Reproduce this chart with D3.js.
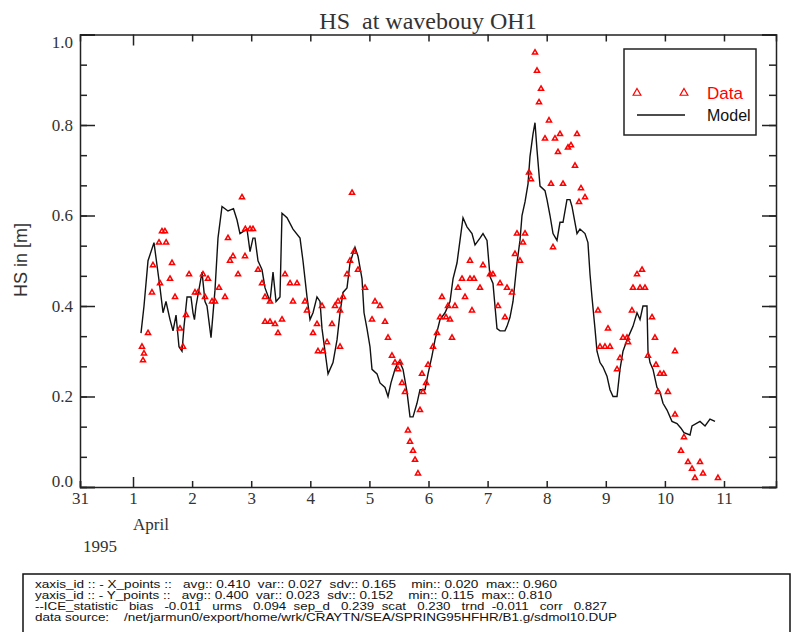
<!DOCTYPE html>
<html>
<head>
<meta charset="utf-8">
<script src="https://cdn.jsdelivr.net/npm/d3@7"></script>
<style>
  body { margin: 0; background: #fff; }
  svg { display: block; }
  text { white-space: pre; }
</style>
</head>
<body>
<div id="chart-container"></div>
<script>
// days counted from 31 March 1995 00:00
const dayTicks = [0.103, 1, 2, 3, 4, 5, 6, 7, 8, 9, 10, 11];
const dayLabels = ['31', '1', '2', '3', '4', '5', '6', '7', '8', '9', '10', '11'];
const hsTicks = [0, 0.2, 0.4, 0.6, 0.8, 1.0];
const hsLabels = ['0.0', '0.2', '0.4', '0.6', '0.8', '1.0'];

// model run (black line)
const modelDays = [1.135, 1.186, 1.254, 1.355, 1.406, 1.457, 1.508, 1.558, 1.626, 1.677, 1.728, 1.778, 1.829, 1.863,
  1.914, 1.981, 2.015, 2.040, 2.066, 2.168, 2.218, 2.252, 2.320, 2.387, 2.438, 2.506, 2.607, 2.700, 2.760, 2.810,
  2.929, 2.980, 3.030, 3.064, 3.115, 3.183, 3.234, 3.318, 3.369, 3.420, 3.487, 3.521, 3.606, 3.707, 3.826, 3.876,
  3.944, 3.995, 4.046, 4.113, 4.164, 4.198, 4.249, 4.300, 4.384, 4.452, 4.503, 4.553, 4.621, 4.672, 4.756, 4.807,
  4.875, 4.909, 4.959, 5.010, 5.044, 5.129, 5.179, 5.264, 5.315, 5.365, 5.433, 5.484, 5.518, 5.569, 5.636, 5.687,
  5.738, 5.805, 5.856, 5.941, 5.992, 6.059, 6.110, 6.195, 6.279, 6.364, 6.415, 6.482, 6.533, 6.584, 6.651, 6.736,
  6.787, 6.871, 6.922, 6.990, 7.041, 7.091, 7.159, 7.210, 7.294, 7.328, 7.379, 7.430, 7.497, 7.548, 7.582, 7.633,
  7.684, 7.717, 7.768, 7.802, 7.836, 7.887, 7.971, 8.005, 8.056, 8.107, 8.174, 8.225, 8.276, 8.343, 8.394, 8.428,
  8.513, 8.563, 8.648, 8.698, 8.733, 8.766, 8.817, 8.851, 8.902, 8.953, 9.020, 9.071, 9.122, 9.190, 9.240, 9.291,
  9.359, 9.409, 9.460, 9.528, 9.579, 9.629, 9.697, 9.714, 9.748, 9.799, 9.866, 9.917, 9.968, 10.036, 10.120, 10.205,
  10.272, 10.323, 10.425, 10.459, 10.594, 10.679, 10.763, 10.848];
const modelHs = [0.34, 0.40, 0.50, 0.54, 0.49, 0.44, 0.385, 0.41, 0.37, 0.345, 0.38, 0.31, 0.30, 0.355,
  0.42, 0.42, 0.385, 0.37, 0.40, 0.475, 0.41, 0.40, 0.33, 0.435, 0.55, 0.62, 0.61, 0.615, 0.59, 0.56,
  0.57, 0.52, 0.55, 0.55, 0.50, 0.48, 0.44, 0.41, 0.475, 0.41, 0.42, 0.605, 0.595, 0.57, 0.55, 0.50,
  0.42, 0.37, 0.385, 0.42, 0.41, 0.35, 0.30, 0.25, 0.275, 0.325, 0.385, 0.43, 0.44, 0.495, 0.53, 0.51,
  0.46, 0.385, 0.35, 0.31, 0.26, 0.25, 0.23, 0.22, 0.20, 0.23, 0.26, 0.275, 0.275, 0.26, 0.21, 0.155,
  0.155, 0.185, 0.215, 0.215, 0.25, 0.29, 0.325, 0.37, 0.385, 0.41, 0.46, 0.495, 0.545, 0.595, 0.575, 0.56,
  0.535, 0.55, 0.56, 0.545, 0.465, 0.45, 0.35, 0.345, 0.345, 0.355, 0.375, 0.41, 0.495, 0.545, 0.60, 0.63,
  0.67, 0.73, 0.78, 0.805, 0.745, 0.665, 0.655, 0.635, 0.60, 0.56, 0.545, 0.585, 0.585, 0.635, 0.635, 0.62,
  0.56, 0.57, 0.56, 0.54, 0.47, 0.42, 0.35, 0.30, 0.275, 0.265, 0.245, 0.215, 0.20, 0.20, 0.26, 0.30,
  0.325, 0.34, 0.355, 0.385, 0.37, 0.40, 0.40, 0.30, 0.275, 0.26, 0.22, 0.21, 0.185, 0.17, 0.145, 0.14,
  0.13, 0.12, 0.115, 0.135, 0.145, 0.135, 0.15, 0.145];

// buoy measurements (red triangles)
const dataDays = [1.152, 1.169, 1.186, 1.254, 1.321, 1.338, 1.440, 1.490, 1.540, 1.560, 1.457, 1.660, 1.626, 1.711,
  1.795, 1.846, 1.897, 1.948, 2.049, 2.100, 2.184, 2.218, 2.269, 2.337, 2.387, 2.455, 2.557, 2.607, 2.641, 2.692,
  2.777, 2.844, 2.895, 2.900, 2.980, 3.030, 3.115, 3.183, 3.234, 3.318, 3.234, 3.318, 3.403, 3.453, 3.521, 3.572,
  3.657, 3.707, 3.775, 3.910, 3.944, 4.046, 4.113, 4.130, 4.198, 4.215, 4.283, 4.367, 4.418, 4.469, 4.503, 4.503,
  4.553, 4.621, 4.672, 4.706, 4.739, 4.807, 4.926, 5.044, 5.095, 5.179, 5.264, 5.315, 5.382, 5.433, 5.484, 5.518,
  5.552, 5.602, 5.653, 5.687, 5.738, 5.772, 5.822, 5.856, 5.907, 5.890, 5.992, 5.960, 6.076, 6.144, 6.195, 6.228,
  6.296, 6.330, 6.364, 6.398, 6.448, 6.499, 6.567, 6.618, 6.702, 6.702, 6.770, 6.736, 6.871, 6.922, 7.041, 7.090,
  7.210, 7.176, 7.328, 7.294, 7.413, 7.464, 7.548, 7.599, 7.497, 7.633, 8.107, 7.802, 7.836, 7.904, 7.870, 8.039,
  7.971, 8.140, 8.225, 8.191, 8.411, 8.513, 8.479, 8.360, 8.073, 8.276, 7.701, 7.734, 8.580, 8.648, 8.547, 8.868,
  9.037, 8.902, 8.986, 9.071, 9.190, 9.240, 9.291, 9.359, 9.376, 9.443, 9.460, 9.528, 9.613, 9.663, 9.579, 9.782,
  9.832, 9.714, 9.849, 9.917, 9.980, 10.171, 10.052, 9.883, 10.171, 10.323, 10.272, 10.391, 10.459, 10.594, 10.645,
  10.509, 10.898];
const dataHs = [0.31, 0.28, 0.295, 0.34, 0.43, 0.49, 0.54, 0.565, 0.565, 0.54, 0.45, 0.495, 0.46, 0.42,
  0.35, 0.31, 0.38, 0.47, 0.43, 0.43, 0.47, 0.42, 0.46, 0.41, 0.41, 0.44, 0.42, 0.55, 0.50, 0.51,
  0.47, 0.64, 0.51, 0.57, 0.57, 0.57, 0.48, 0.45, 0.42, 0.41, 0.365, 0.365, 0.36, 0.34, 0.37, 0.47,
  0.45, 0.41, 0.45, 0.41, 0.39, 0.34, 0.36, 0.30, 0.40, 0.30, 0.32, 0.36, 0.40, 0.41, 0.39, 0.31,
  0.42, 0.47, 0.50, 0.65, 0.52, 0.48, 0.44, 0.37, 0.41, 0.40, 0.365, 0.33, 0.29, 0.275, 0.26, 0.275,
  0.23, 0.21, 0.125, 0.10, 0.08, 0.06, 0.03, 0.17, 0.21, 0.25, 0.27, 0.23, 0.31, 0.34, 0.375, 0.42,
  0.375, 0.40, 0.37, 0.33, 0.40, 0.44, 0.46, 0.42, 0.50, 0.46, 0.46, 0.39, 0.44, 0.49, 0.47, 0.47,
  0.45, 0.40, 0.44, 0.375, 0.43, 0.515, 0.50, 0.54, 0.56, 0.56, 0.53, 0.96, 0.92, 0.88, 0.85, 0.81,
  0.77, 0.77, 0.78, 0.74, 0.755, 0.78, 0.71, 0.75, 0.67, 0.67, 0.695, 0.68, 0.66, 0.64, 0.63, 0.39,
  0.35, 0.31, 0.31, 0.31, 0.26, 0.285, 0.33, 0.33, 0.32, 0.39, 0.44, 0.47, 0.48, 0.44, 0.44, 0.375,
  0.33, 0.29, 0.27, 0.25, 0.25, 0.30, 0.21, 0.21, 0.16, 0.11, 0.08, 0.055, 0.04, 0.055, 0.03,
  0.02, 0.02];

const infoLines = [
  'xaxis_id :: - X_points ::   avg:: 0.410  var:: 0.027  sdv:: 0.165    min:: 0.020  max:: 0.960',
  'yaxis_id :: - Y_points ::   avg:: 0.400  var:: 0.023  sdv:: 0.152    min:: 0.115  max:: 0.810',
  '--ICE_statistic   bias   -0.011   urms   0.094  sep_d   0.239  scat   0.230   trnd  -0.011   corr   0.827',
  'data source:    /net/jarmun0/export/home/wrk/CRAYTN/SEA/SPRING95HFHR/B1.g/sdmol10.DUP'
];
const infoEnds = [557, 552, 607, 617];

function createChart(elementId) {
  const width = 798;
  const height = 632;
  const plot = { left: 80, right: 776, top: 34.5, bottom: 487 };

  const svg = d3.select(elementId)
    .append('svg')
    .attr('width', width)
    .attr('height', height);

  const x = d3.scaleLinear()
    .domain([dayTicks[0], 11.88])
    .range([plot.left, plot.right]);

  const y = d3.scaleLinear()
    .domain([0, 1])
    .range([plot.bottom, plot.top]);

  const serif = 'Liberation Serif, Times New Roman, serif';
  const sans = 'Liberation Sans, Arial, sans-serif';
  const axisColor = '#222';

  // minor y ticks every 0.2/3
  const minorHs = d3.range(0, 16).map(i => i * 0.2 / 3).filter(v => v <= 1.0001);

  // left axis
  svg.append('g')
    .attr('transform', `translate(${plot.left},0)`)
    .call(d3.axisLeft(y).tickValues(minorHs).tickSize(-7).tickFormat(''))
    .call(g => g.select('.domain').remove());
  const yAxis = svg.append('g')
    .attr('class', 'y-axis')
    .attr('transform', `translate(${plot.left},0)`)
    .call(d3.axisLeft(y).tickValues(hsTicks).tickSize(-15).tickPadding(7)
      .tickFormat((d, i) => hsLabels[i]));
  yAxis.selectAll('text')
    .attr('font-family', serif)
    .attr('font-size', 17)
    .attr('fill', '#333')
    .attr('y', d => d === 0 ? -6 : (d === 1 ? 8 : 0));

  // right axis
  svg.append('g')
    .attr('transform', `translate(${plot.right},0)`)
    .call(d3.axisRight(y).tickValues(minorHs).tickSize(-7).tickFormat(''))
    .call(g => g.select('.domain').remove());
  svg.append('g')
    .attr('transform', `translate(${plot.right},0)`)
    .call(d3.axisRight(y).tickValues(hsTicks).tickSize(-14).tickFormat(''));

  // bottom axis
  const xAxis = svg.append('g')
    .attr('class', 'x-axis')
    .attr('transform', `translate(0,${plot.bottom})`)
    .call(d3.axisBottom(x).tickValues(dayTicks).tickSize(-6).tickPadding(5)
      .tickFormat((d, i) => dayLabels[i]));
  xAxis.selectAll('.tick line').filter(d => d === 1).attr('y2', -10);
  xAxis.selectAll('text')
    .attr('font-family', serif)
    .attr('font-size', 17)
    .attr('fill', '#333');

  // top axis
  const topAxis = svg.append('g')
    .attr('transform', `translate(0,${plot.top})`)
    .call(d3.axisTop(x).tickValues(dayTicks.slice(1)).tickSize(-7).tickFormat(''));
  topAxis.selectAll('.tick line').filter(d => d === 1).attr('y2', 11);

  svg.selectAll('.domain, .tick line')
    .attr('stroke', axisColor)
    .attr('stroke-width', 1.5);

  // month and year under the axis
  svg.append('text')
    .attr('x', x(1))
    .attr('y', 530)
    .attr('font-family', serif)
    .attr('font-size', 17)
    .attr('fill', '#333')
    .text('April');
  svg.append('text')
    .attr('x', 83)
    .attr('y', 552)
    .attr('font-family', serif)
    .attr('font-size', 17)
    .attr('fill', '#333')
    .text('1995');

  // title
  svg.append('text')
    .attr('x', (plot.left + plot.right) / 2)
    .attr('y', 29)
    .attr('text-anchor', 'middle')
    .attr('font-family', serif)
    .attr('font-size', 24)
    .attr('fill', '#333')
    .text('HS  at wavebouy OH1');

  // y label
  svg.append('text')
    .attr('transform', 'translate(27,260) rotate(-90)')
    .attr('text-anchor', 'middle')
    .attr('font-family', sans)
    .attr('font-size', 18)
    .attr('fill', '#333')
    .text('HS in [m]');

  // model line
  const model = modelDays.map((d, i) => ({ day: d, hs: modelHs[i] }));
  svg.append('path')
    .datum(model)
    .attr('fill', 'none')
    .attr('stroke', '#111')
    .attr('stroke-width', 1.4)
    .attr('d', d3.line().x(d => x(d.day)).y(d => y(d.hs)));

  // data triangles
  const obs = dataDays.map((d, i) => ({ day: d, hs: dataHs[i] }));
  const tri = d3.symbol().type(d3.symbolTriangle).size(11);
  svg.append('g')
    .selectAll('path')
    .data(obs)
    .enter()
    .append('path')
    .attr('d', tri)
    .attr('transform', d => `translate(${x(d.day)},${y(d.hs)})`)
    .attr('fill', 'none')
    .attr('stroke', 'red')
    .attr('stroke-width', 1.5);

  // legend
  const legend = svg.append('g').attr('class', 'legend');
  legend.append('rect')
    .attr('x', 624).attr('y', 49)
    .attr('width', 132).attr('height', 86)
    .attr('fill', 'white')
    .attr('stroke', axisColor)
    .attr('stroke-width', 1.5);
  legend.selectAll('.ltri')
    .data([637, 684])
    .enter()
    .append('path')
    .attr('d', d3.symbol().type(d3.symbolTriangle).size(26))
    .attr('transform', d => `translate(${d},93)`)
    .attr('fill', 'none')
    .attr('stroke', 'red')
    .attr('stroke-width', 1.2);
  legend.append('text')
    .attr('x', 707).attr('y', 99)
    .attr('font-family', sans)
    .attr('font-size', 17)
    .attr('fill', 'red')
    .text('Data');
  legend.append('line')
    .attr('x1', 637).attr('x2', 685)
    .attr('y1', 115).attr('y2', 115)
    .attr('stroke', '#111')
    .attr('stroke-width', 1.3);
  legend.append('text')
    .attr('x', 707).attr('y', 121)
    .attr('font-family', sans)
    .attr('font-size', 16)
    .attr('fill', '#111')
    .text('Model');

  // statistics box
  svg.append('rect')
    .attr('x', 23).attr('y', 574)
    .attr('width', 767).attr('height', 70)
    .attr('fill', 'none')
    .attr('stroke', '#111')
    .attr('stroke-width', 1.5);
  svg.selectAll('.info')
    .data(infoLines)
    .enter()
    .append('text')
    .attr('class', 'info')
    .attr('x', 35)
    .attr('y', (d, i) => 588 + i * 11)
    .attr('font-family', sans)
    .attr('font-size', 11)
    .attr('fill', '#111')
    .attr('textLength', (d, i) => infoEnds[i] - 35)
    .attr('lengthAdjust', 'spacingAndGlyphs')
    .text(d => d);
}

createChart('#chart-container');
</script>
</body>
</html>
